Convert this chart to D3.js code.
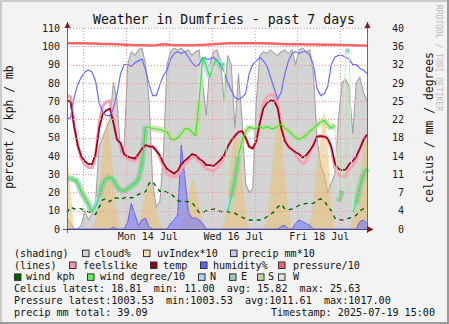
<!DOCTYPE html>
<html>
<head>
<meta charset="utf-8">
<script src="https://cdn.jsdelivr.net/npm/d3@7"></script>
<style>
  html, body { margin: 0; padding: 0; background: #f3f3f3; }
  svg { display: block; }
</style>
</head>
<body>
<svg id="chart" width="449" height="324"></svg>
<script>
// ---- Data: 2-hourly samples, 2025-07-12 15:00 .. 2025-07-19 15:00 ----
const startTime = new Date(2025, 6, 12, 15, 0);
const endTime = new Date(2025, 6, 19, 15, 0);
const stepHours = 2;

// shading (left axis units)
const cloudPct = [6,3,0,0,2,10,5,8,15,45, 50,55,60,80,70,42,45,90,97,95,
  98,99,90,70,25,12,15,40,90,97, 99,98,99,97,98,95,97,98,80,62,
  90,97,98,92,70,95,90,55,85,60, 25,20,22,70,95,97,96,98,96,95,
  97,98,96,98,90,98,99,97,98,85, 50,35,30,20,25,30,60,80,82,78,
  52,80,83,75,70];
const uvIndex10 = [45,20,0,0,0,0,0,0,5,20, 45,60,50,28,8,0,0,0,0,0,
  3,10,22,27,20,10,3,0,0,0, 0,0,2,8,18,27,24,14,4,0,
  0,0,0,0,3,18,40,52,48,28, 10,0,0,0,0,0,5,25,45,60,
  55,30,10,0,0,0,0,0,3,15, 35,50,66,45,12,0,0,0,0,0,
  5,15,30,45,50];
const precip10 = [0,0,0,0,0,0,0,0,0,0, 0,0,0,1,0,0,0,4,14,8,
  2,5,6,1,0,0,0,0,0,3, 5,8,46,28,9,6,6,5,3,0,
  0,0,0,0,0,0,0,0,0,0, 0,0,0,0,0,0,0,0,0,0,
  1.5,2,0,0,3,5,4,3,2,0, 0,0,0,0,0,0,0,0,0,0,
  0,0,4,5,3];

// lines: celsius (right axis)
const feelslike = [26.6,26.3,20.8,16.5,14.0,12.8,12.2,12.2,14.5,21.0,
  24.5,25.3,25.5,22.0,17.8,17.0,14.5,14.0,13.7,13.5,
  14.5,16.0,16.7,16.4,16.4,15.6,14.2,12.3,11.0,10.5,
  10.3,10.6,12.0,12.8,13.6,14.5,14.2,13.4,12.8,11.9,
  11.8,11.5,12.2,13.0,14.2,16.4,17.6,18.5,19.3,19.5,
  18.2,16.4,16.0,17.5,21.5,25.0,26.3,26.8,26.6,25.0,
  20.5,17.5,16.4,15.8,15.0,13.7,13.0,13.5,15.2,16.7,
  18.4,18.5,18.4,18.0,16.2,12.2,10.8,10.4,10.6,11.9,
  12.6,13.8,16.0,17.7,18.8];
const temp = [25.6,25.3,20.4,16.7,14.5,13.5,12.9,12.9,14.9,20.0,
  22.9,23.6,24.0,21.1,17.8,17.1,14.9,14.4,14.2,14.0,
  14.9,16.0,16.7,16.4,16.4,15.6,14.7,13.1,12.0,11.5,
  11.0,11.6,12.9,13.6,14.2,14.9,14.7,14.0,13.5,12.7,
  12.7,12.5,13.1,13.8,14.7,16.4,17.6,18.5,19.3,19.5,
  18.2,16.4,16.0,17.5,21.1,24.0,25.1,25.6,25.5,24.0,
  20.0,17.5,16.4,15.8,15.3,14.9,14.2,14.7,15.6,16.7,
  18.4,18.5,18.4,18.0,16.4,13.1,12.0,11.7,11.8,12.9,
  13.5,14.5,16.0,17.7,18.8];
// lines: left axis units
const humidity = [60,61,72,79,83,86,87,86,81,69, 64,62,62,66,74,85,90,90,89,91,
  92,93,87,79,73,73,79,84,87,93, 96,97,96,97,94,91,89,90,94,93,
  93,94,92,90,86,80,76,72,71,72, 74,85,90,92,94,92,89,83,77,71,
  75,85,92,96,97,96,97,97,95,90, 77,73,74,78,90,94,95,95,94,93,
  90,90,88,87,85];
const pressureMb = [1017,1017,1016.8,1016.5,1016.2,1016,1015.5,1015,1014.5,1014,
  1013,1012.5,1012,1011.5,1011,1010,1009,1008,1007,1006,
  1005.5,1005,1005,1004.5,1004.5,1005,1008,1011,1010,1007,
  1006,1005.5,1005,1005,1005,1005.5,1006,1006.5,1007,1008,
  1010,1012,1013,1014,1015,1016,1016.5,1017,1017,1017,
  1017,1017,1016.8,1016.5,1016.2,1016,1015.5,1015,1014.5,1013.5,
  1013,1012,1011.5,1011,1011,1010.5,1010.5,1010,1010,1010,
  1009.5,1009,1009,1008.5,1008,1008,1007,1006.5,1006,1005.5,
  1005,1004.5,1004,1003.8,1003.53];
const windKph = [9,12,11,11.3,11,10,9.5,8.6,8,12, 16,16.5,15,17,17,16,17,17.5,17,17.5,
  19,19.5,20.4,25,26,23,20.5,21,20,19.5, 17.5,15.5,15,15,15,14.5,12,9,9,10,
  10.5,11,10.5,9.5,9.5,9.5,9,8.6,7.5,6.5, 5.5,4.9,4.9,4.9,4.9,5.5,6.7,8,9.5,12,
  13.5,11,10.5,11,12,13,13.5,14,14,14, 15.5,16.5,15.5,12.5,10,6,4.9,4.9,5.5,5.9,
  6.5,7.5,10,11,11.5];
// wind direction in degrees/10 (right axis)
const windDeg10 = [10.1,10,9.9,9.3,7.3,6.2,4.9,3.5,4.4,6.4,
  9.1,10,10.4,9.8,8.4,7.6,7.5,8,8.5,9.1,
  9.8,13.1,20.4,20.2,20,19.9,19.8,19.6,19.3,18,
  17.7,18.2,18.9,20,20,19.3,18.5,25.5,34.2,32.4,
  30.2,32.7,33.8,32,33.1,3.6,6.4,9.7,14.5,17.5,
  19.3,20.4,20,20,20.4,20,20.4,20,20,20.4,
  20.9,20,19.6,18.9,18.2,17.8,18.2,18.7,19.5,20,
  20.7,21.3,21.6,20.7,20,20.7,5.5,7.6,35.6,35.3,
  3.3,5.1,8.4,10.9,12];

// axis labels
const leftTicks = [0,10,20,30,40,50,60,70,80,90,100,110];
const rightTickLabels = ["0","4","7","11","14","18","22","25","29","32","36","40"];
const dayLabelDates = [new Date(2025,6,14,12), new Date(2025,6,16,12), new Date(2025,6,18,12)];
const dayLabelTexts = ["Mon 14 Jul", "Wed 16 Jul", "Fri 18 Jul"];

const statLines = [
  "Celcius latest: 18.81  min: 11.00  avg: 15.82  max: 25.63",
  "Pressure latest:1003.53  min:1003.53  avg:1011.61  max:1017.00",
  "precip mm total: 39.09"
];
const timestampText = "Timestamp: 2025-07-19 15:00";

// ---- Layout ----
const W = 449, H = 324;
const plot = { left: 67, right: 367, top: 28, bottom: 229 };
const MONO = "'DejaVu Sans Mono', monospace";
const keepSpaces = s => s.replace(/ /g, "\u00a0");

const colors = {
  cloud: "#d4d4d4", cloudLine: "#a2a2a2",
  uv: "#e8c070", precip: "#7070ff", precipLine: "#6464e6",
  feels: "#f4a2b6", temp: "#a00014", humidity: "#6b6bff", pressure: "#ff6262",
  windKph: "#006400", windDeg: "#30e830",
  N: "#a6d4f4", E: "#8ccaa8", S: "#c4da98", W: "#d6e4d6"
};

const svg = d3.select("#chart");

// background with bevelled frame
svg.append("rect").attr("width", W).attr("height", H).attr("fill", "#f3f3f3");
svg.append("rect").attr("x", 0).attr("y", 0).attr("width", W).attr("height", 2).attr("fill", "#cbcbcb");
svg.append("rect").attr("x", 0).attr("y", 0).attr("width", 2).attr("height", H).attr("fill", "#cbcbcb");
svg.append("rect").attr("x", 0).attr("y", H - 2).attr("width", W).attr("height", 2).attr("fill", "#9a9a9a");
svg.append("rect").attr("x", W - 2).attr("y", 0).attr("width", 2).attr("height", H).attr("fill", "#9a9a9a");

// plotting canvas
svg.append("rect").attr("x", plot.left).attr("y", plot.top)
  .attr("width", plot.right - plot.left).attr("height", plot.bottom - plot.top).attr("fill", "#ffffff");

// scales
const x = d3.scaleTime().domain([startTime, endTime]).range([plot.left, plot.right]);
const yL = d3.scaleLinear().domain([0, 110]).range([plot.bottom, plot.top]);
const yR = d3.scaleLinear().domain([0, 40]).range([plot.bottom, plot.top]);

const times = cloudPct.map((_, i) => d3.timeHour.offset(startTime, i * stepHours));
const series = vals => vals.map((v, i) => ({ t: times[i], v }));

const areaOf = scale => d3.area().x(d => x(d.t)).y0(scale(0)).y1(d => scale(d.v));
const lineOf = scale => d3.line().x(d => x(d.t)).y(d => scale(d.v));

const g = svg.append("g");

// shading areas
g.append("path").datum(series(cloudPct)).attr("d", areaOf(yL)).attr("fill", colors.cloud);
g.append("path").datum(series(cloudPct)).attr("d", lineOf(yL))
  .attr("fill", "none").attr("stroke", colors.cloudLine).attr("stroke-width", 1.1);
g.append("path").datum(series(uvIndex10)).attr("d", areaOf(yL))
  .attr("fill", colors.uv).attr("fill-opacity", 0.55);
g.append("path").datum(series(precip10)).attr("d", areaOf(yL))
  .attr("fill", colors.precip).attr("fill-opacity", 0.55);
g.append("path").datum(series(precip10)).attr("d", lineOf(yL))
  .attr("fill", "none").attr("stroke", colors.precipLine).attr("stroke-width", 1);

// grid
const grid = svg.append("g").attr("stroke", "#ee9a9a").attr("stroke-width", 1)
  .attr("stroke-dasharray", "1,2").attr("shape-rendering", "crispEdges");
grid.selectAll("line.h").data(leftTicks.filter(v => v > 0)).join("line")
  .attr("x1", plot.left).attr("x2", plot.right)
  .attr("y1", d => Math.round(yL(d)) + 0.5).attr("y2", d => Math.round(yL(d)) + 0.5);
grid.selectAll("line.v").data(d3.timeDay.range(d3.timeHour.offset(startTime, 1), endTime)).join("line")
  .attr("y1", plot.top).attr("y2", plot.bottom)
  .attr("x1", d => Math.round(x(d)) + 0.5).attr("x2", d => Math.round(x(d)) + 0.5);

// wind direction band, coloured by compass quadrant
const quadrant = d10 => {
  const deg = d10 * 10;
  if (deg >= 315 || deg < 45) return "N";
  if (deg < 135) return "E";
  if (deg < 225) return "S";
  return "W";
};
const wd = series(windDeg10);
const segs = d3.pairs(wd).map(([a, b]) => ({ a, b, jump: Math.abs(b.v - a.v) > 12 }));
g.append("g").selectAll("line").data(segs.filter(s => !s.jump)).join("line")
  .attr("x1", s => x(s.a.t)).attr("y1", s => yR(s.a.v))
  .attr("x2", s => x(s.b.t)).attr("y2", s => yR(s.b.v))
  .attr("stroke", s => colors[quadrant(s.a.v)]).attr("stroke-width", 6)
  .attr("stroke-linecap", "butt").attr("stroke-opacity", 0.75);

// lines
g.append("path").datum(series(feelslike)).attr("d", lineOf(yR))
  .attr("fill", "none").attr("stroke", colors.feels).attr("stroke-width", 3).attr("stroke-linejoin", "round");
g.append("path").datum(series(temp)).attr("d", lineOf(yR))
  .attr("fill", "none").attr("stroke", colors.temp).attr("stroke-width", 1.7).attr("stroke-linejoin", "round");
g.append("path").datum(series(humidity)).attr("d", lineOf(yL))
  .attr("fill", "none").attr("stroke", colors.humidity).attr("stroke-width", 1.2);
g.append("path").datum(series(pressureMb.map(p => p / 10))).attr("d", lineOf(yL))
  .attr("fill", "none").attr("stroke", colors.pressure).attr("stroke-width", 2.5);
g.append("path").datum(series(windKph)).attr("d", lineOf(yL))
  .attr("fill", "none").attr("stroke", colors.windKph).attr("stroke-width", 1.4)
  .attr("stroke-dasharray", "4,4");
g.append("g").selectAll("line").data(segs).join("line")
  .attr("x1", s => x(s.a.t)).attr("y1", s => yR(s.a.v))
  .attr("x2", s => x(s.b.t)).attr("y2", s => yR(s.b.v))
  .attr("stroke", s => s.jump ? "#bff3bf" : colors.windDeg)
  .attr("stroke-width", s => s.jump ? 1 : 1.1);

// axes lines and arrows
const axisCol = "#6a6a6a";
svg.append("line").attr("x1", plot.left + 0.5).attr("x2", plot.left + 0.5).attr("y1", 22).attr("y2", plot.bottom + 4)
  .attr("stroke", axisCol).attr("stroke-width", 1);
svg.append("line").attr("x1", plot.right + 0.5).attr("x2", plot.right + 0.5).attr("y1", 22).attr("y2", plot.bottom + 4)
  .attr("stroke", axisCol).attr("stroke-width", 1);
svg.append("line").attr("x1", plot.left - 4).attr("x2", plot.right + 4).attr("y1", plot.bottom + 0.5).attr("y2", plot.bottom + 0.5)
  .attr("stroke", "#4a4a90").attr("stroke-width", 1.2);
const arrowCol = "#7f1a1a";
[plot.left + 0.5, plot.right + 0.5].forEach(ax => {
  svg.append("path").attr("d", `M${ax - 3},${plot.top} L${ax + 3},${plot.top} L${ax},${plot.top - 6} Z`).attr("fill", arrowCol);
});
svg.append("path").attr("d", `M${plot.right},${plot.bottom - 3} L${plot.right},${plot.bottom + 3.5} L${plot.right + 6.5},${plot.bottom + 0.5} Z`)
  .attr("fill", arrowCol);

// tick labels
const gL = svg.append("g").attr("transform", `translate(${plot.left},0)`)
  .call(d3.axisLeft(yL).tickValues(leftTicks).tickSize(0).tickPadding(7));
gL.select(".domain").remove();
gL.attr("font-family", MONO).attr("font-size", 10);
gL.selectAll("text").attr("fill", "#1a1a1a");

const rightTickVals = leftTicks.map(v => yR.invert(yL(v)));
const gR = svg.append("g").attr("transform", `translate(${plot.right},0)`)
  .call(d3.axisRight(yR).tickValues(rightTickVals).tickSize(0).tickFormat((d, i) => rightTickLabels[i]));
gR.select(".domain").remove();
gR.attr("font-family", MONO).attr("font-size", 10);
gR.selectAll("text").attr("fill", "#1a1a1a").attr("text-anchor", "end").attr("x", 37);

const gX = svg.append("g").attr("transform", `translate(0,${plot.bottom})`)
  .call(d3.axisBottom(x).tickValues(dayLabelDates).tickSize(0).tickPadding(4)
    .tickFormat((d, i) => keepSpaces(dayLabelTexts[i])));
gX.select(".domain").remove();
gX.attr("font-family", MONO).attr("font-size", 10);
gX.selectAll("text").attr("fill", "#1a1a1a");

// titles
svg.append("text").attr("x", 224).attr("y", 24).attr("text-anchor", "middle")
  .attr("font-family", MONO).attr("font-size", 13.2).attr("fill", "#111")
  .text("Weather in Dumfries - past 7 days");
svg.append("text").attr("transform", "translate(13,127) rotate(-90)").attr("text-anchor", "middle")
  .attr("font-family", MONO).attr("font-size", 11.4).attr("fill", "#111")
  .text("percent / kph / mb");
svg.append("text").attr("transform", "translate(433,127.5) rotate(-90)").attr("text-anchor", "middle")
  .attr("font-family", MONO).attr("font-size", 11.4).attr("fill", "#111")
  .text("celcius / mm / degrees");
svg.append("text").attr("transform", "translate(435.5,5) rotate(90)").attr("text-anchor", "start")
  .attr("font-family", MONO).attr("font-size", 8).attr("fill", "#bdbdbd")
  .text("RRDTOOL / TOBI OETIKER");

// legend
const legendRows = [
  { head: "(shading)", items: [
    { label: "cloud%", color: "#d3d3d3", bx: 82, tx: 94 },
    { label: "uvIndex*10", color: "#f3dfb2", bx: 143, tx: 157 },
    { label: "precip mm*10", color: "#c6c6fb", bx: 230, tx: 242 } ] },
  { head: "(lines)", items: [
    { label: "feelslike", color: "#f49ab2", bx: 69, tx: 83 },
    { label: "temp", color: "#9a0000", bx: 150, tx: 163 },
    { label: "humidity%", color: "#6262ff", bx: 200, tx: 213 },
    { label: "pressure/10", color: "#ff6262", bx: 278, tx: 293 } ] },
  { head: null, items: [
    { label: "wind kph", color: "#005f00", bx: 14, tx: 26 },
    { label: "wind degree/10", color: "#5cf25c", bx: 87, tx: 100 },
    { label: "N", color: "#a8d4f7", bx: 198, tx: 210 },
    { label: "E", color: "#9ccbb6", bx: 229, tx: 241 },
    { label: "S", color: "#c6d6a0", bx: 257, tx: 268 },
    { label: "W", color: "#dde9dd", bx: 278, tx: 293 } ] }
];
const baseY = 256.6, rowStep = 11.9;
const leg = svg.append("g").attr("font-family", MONO).attr("font-size", 10.1).attr("fill", "#111");
legendRows.forEach((row, r) => {
  const by = baseY + r * rowStep;
  if (row.head) leg.append("text").attr("x", 14).attr("y", by).text(row.head);
  row.items.forEach(it => {
    leg.append("rect").attr("x", it.bx + 0.5).attr("y", by - 6.5).attr("width", 6.5).attr("height", 6.5)
      .attr("fill", it.color).attr("stroke", "#333").attr("stroke-width", 1);
    leg.append("text").attr("x", it.tx).attr("y", by).text(keepSpaces(it.label));
  });
});
statLines.forEach((s, i) => {
  leg.append("text").attr("x", 14).attr("y", baseY + (3 + i) * rowStep).text(keepSpaces(s));
});
leg.append("text").attr("x", 435).attr("y", baseY + 5 * rowStep).attr("text-anchor", "end")
  .text(keepSpaces(timestampText));
</script>
</body>
</html>
